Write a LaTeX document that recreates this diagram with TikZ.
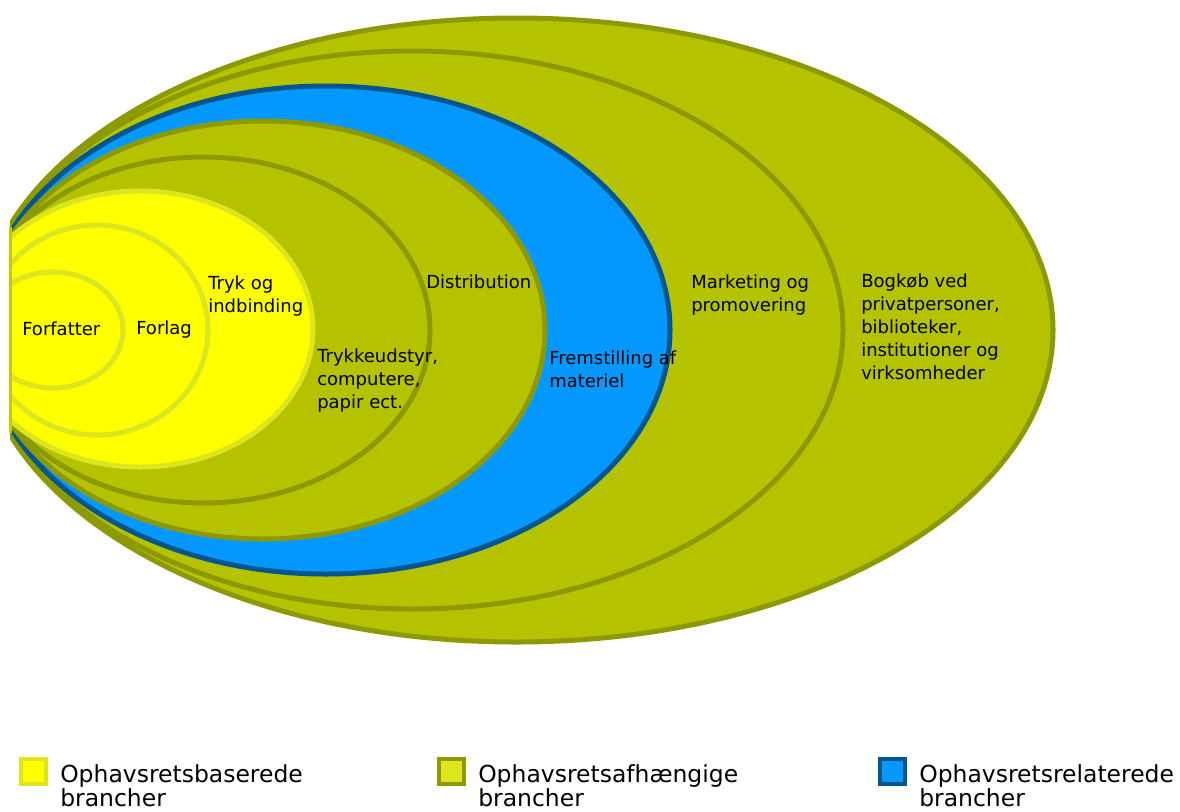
\documentclass[tikz,border=0pt]{standalone}
\usepackage{fontspec}
\setmainfont{DejaVu Sans}
\usepackage{tikz}
\usetikzlibrary{positioning}
\definecolor{olivefill}{RGB}{181,194,0}
\definecolor{olivedraw}{RGB}{140,153,0}
\definecolor{bluefill}{RGB}{5,153,255}
\definecolor{bluedraw}{RGB}{0,87,143}
\definecolor{yelfill}{RGB}{255,255,0}
\definecolor{yeldraw}{RGB}{220,230,30}
\definecolor{edgeline}{RGB}{196,204,0}
\tikzstyle{ring} = [fill=olivefill, draw=olivedraw, line width=3.75pt]
\tikzstyle{bluering} = [ring, fill=bluefill, draw=bluedraw]
\tikzstyle{yelring} = [ring, fill=yelfill, draw=yeldraw]
\tikzstyle{ringtext} = [anchor=base west, align=left, inner sep=0pt,
    font=\fontsize{13.5}{17.25}\selectfont]
\tikzstyle{keybox} = [draw, minimum size=18.75pt, inner sep=0pt, line width=3pt]
\tikzstyle{keytext} = [anchor=base west, align=left, inner sep=0pt,
    font=\fontsize{17.6}{18}\selectfont]

\begin{document}
\begin{tikzpicture}[x=0.75pt, y=-0.75pt]
  \useasboundingbox (0,0) rectangle (1180,811);
  % Rings, outer to inner
  \begin{scope}
    \clip (10,0) rectangle (1180,811);
    \path[ring] (516,330) ellipse [x radius=537, y radius=312];
    \path[ring] (412,330) ellipse [x radius=431, y radius=279];
    \path[bluering] (326,330) ellipse [x radius=344, y radius=244];
    \path[ring] (263,330) ellipse [x radius=282, y radius=209];
    \path[ring] (203,330) ellipse [x radius=227, y radius=173];
    \path[yelring] (140,329) ellipse [x radius=173, y radius=138];
    \path[yelring] (97,330) ellipse [x radius=111, y radius=105];
    \path[yelring] (53,330) ellipse [x radius=70, y radius=58];
  \end{scope}
  \draw[edgeline, line width=2.25pt] (10,227) -- (10,433);

  % Place nodes (anchored at the last line's baseline)
  \node[ringtext] (forfatter) at (22,335) {Forfatter};
  \node[ringtext] (forlag) at (136,334) {Forlag};
  \node[ringtext] (tryk) at (208,312) {Tryk og\\indbinding};
  \node[ringtext] (udstyr) at (317,408) {Trykkeudstyr,\\computere,\\papir ect.};
  \node[ringtext] (distribution) at (426,288) {Distribution};
  \node[ringtext] (fremstilling) at (549,387) {Fremstilling af\\materiel};
  \node[ringtext] (marketing) at (691,311) {Marketing og\\promovering};
  \node[ringtext] (bogkob) at (861,379) {Bogkøb ved\\privatpersoner,\\biblioteker,\\institutioner og\\virksomheder};

  % Legend
  \node[keybox, fill=yelfill, draw=yeldraw] (keybase) at (33.5,771.5) {};
  \node[keybox, fill=yeldraw, draw=olivedraw] (keyafh) at (451.5,771.5) {};
  \node[keybox, fill=bluefill, draw=bluedraw] (keyrel) at (892.5,771.5) {};
  \node[keytext] (txtbase) at (60,806) {Ophavsretsbaserede\\brancher};
  \node[keytext] (txtafh) at (478,806) {Ophavsretsafhængige\\brancher};
  \node[keytext] (txtrel) at (919,806) {Ophavsretsrelaterede\\brancher};
\end{tikzpicture}
\end{document}
